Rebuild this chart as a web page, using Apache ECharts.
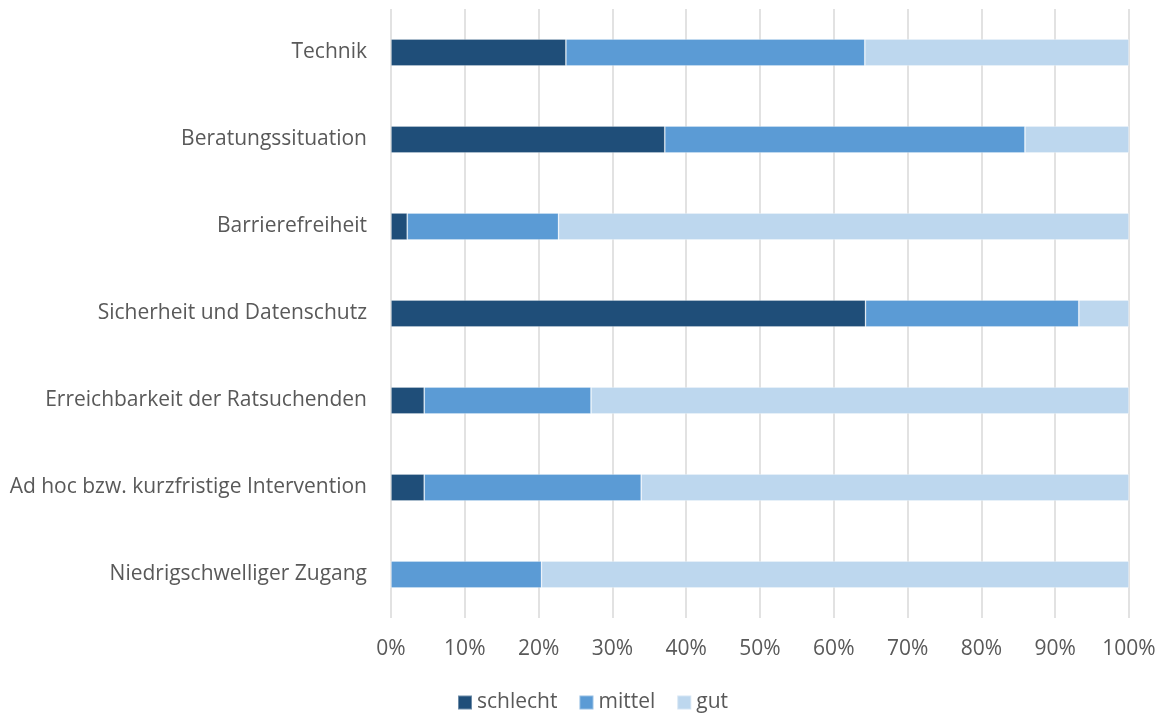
<!DOCTYPE html>
<html>
<head>
<meta charset="utf-8">
<script src="https://cdn.jsdelivr.net/npm/echarts@6/dist/echarts.min.js"></script>
<style>
  html, body { margin: 0; padding: 0; background: #fff; }
  #chart { width: 1165px; height: 713px; }
</style>
</head>
<body>
<div id="chart"></div>
<script>
// Categories listed bottom-to-top (category axis on y starts at the bottom)
const categories = [
  'Niedrigschwelliger Zugang',
  'Ad hoc bzw. kurzfristige Intervention',
  'Erreichbarkeit der Ratsuchenden',
  'Sicherheit und Datenschutz',
  'Barrierefreiheit',
  'Beratungssituation',
  'Technik'
];
// Shares in percent
const schlecht = [0, 4.5, 4.5, 64.3, 2.2, 37.1, 23.7];
const mittel   = [20.4, 29.4, 22.6, 28.9, 20.5, 48.8, 40.5];
const gut      = [79.6, 66.1, 72.9, 6.8, 77.3, 14.1, 35.8];
const xTicks = [0, 10, 20, 30, 40, 50, 60, 70, 80, 90, 100];

const FONT = 'Open Sans';
const TEXT = '#595959';
const FS = 21;

const chart = echarts.init(document.getElementById('chart'), null, { renderer: 'canvas' });

function barSeries(name, data, color) {
  return {
    name: name,
    type: 'bar',
    stack: 'total',
    data: data,
    barWidth: 27,
    itemStyle: { color: color, borderColor: 'rgba(255,255,255,0.35)', borderWidth: 0.8 },
    emphasis: { disabled: true }
  };
}

chart.setOption({
  animation: false,
  textStyle: { fontFamily: FONT },
  grid: { left: 391, right: 36, top: 9, height: 609, containLabel: false },
  legend: {
    top: 692,
    left: 457,
    padding: 0,
    itemWidth: 14,
    itemHeight: 14,
    itemGap: 21,
    icon: 'rect',
    textStyle: { fontFamily: FONT, fontSize: FS, color: TEXT },
    data: ['schlecht', 'mittel', 'gut']
  },
  xAxis: {
    type: 'value',
    min: xTicks[0],
    max: xTicks[xTicks.length - 1],
    interval: 10,
    axisLine: { show: false },
    axisTick: { show: false },
    splitLine: { show: true, lineStyle: { color: '#d9d9d9', width: 1.5 } },
    axisLabel: {
      formatter: v => v + '%',
      fontFamily: FONT,
      fontSize: FS,
      color: TEXT,
      margin: 21
    }
  },
  yAxis: {
    type: 'category',
    data: categories,
    axisLine: { show: false },
    axisTick: { show: false },
    axisLabel: { fontFamily: FONT, fontSize: FS, color: TEXT, margin: 24, padding: [5, 0, 0, 0] }
  },
  series: [
    barSeries('schlecht', schlecht, '#1f4e79'),
    barSeries('mittel', mittel, '#5b9bd5'),
    barSeries('gut', gut, '#bdd7ee')
  ]
});
</script>
</body>
</html>
